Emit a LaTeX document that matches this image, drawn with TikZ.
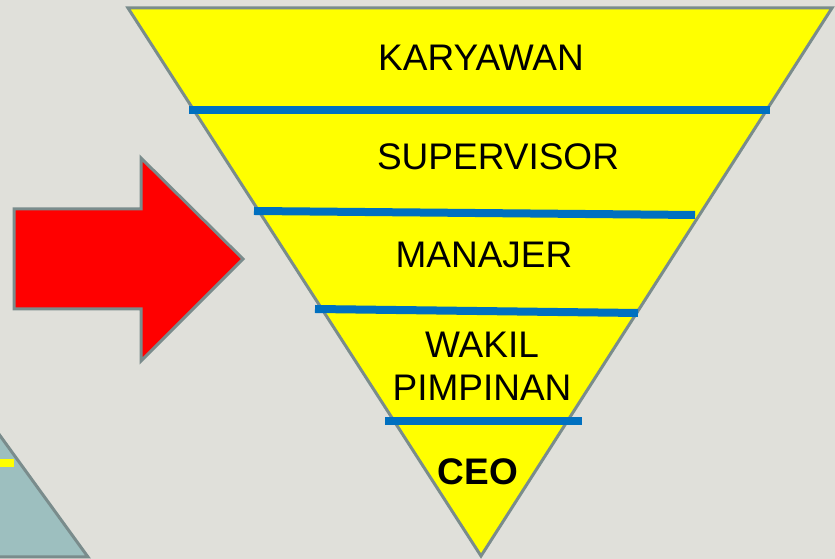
\documentclass[tikz,border=0pt]{standalone}
\usepackage{fontspec}
\setmainfont{Liberation Sans}
\definecolor{bgc}{HTML}{E0E0DA}
\definecolor{edgec}{HTML}{7A8C8C}
\definecolor{tealc}{HTML}{9DBFBF}
\definecolor{bluec}{HTML}{0070C0}
\definecolor{yelc}{HTML}{FFFF00}
\definecolor{redc}{HTML}{FF0000}
\tikzset{
  shapeline/.style={draw=edgec, line width=3pt, line join=miter},
  divider/.style={draw=bluec, line width=8pt},
  lvl/.style={font=\fontsize{37}{43}\selectfont, text=black, inner sep=0pt, align=center}
}
\begin{document}
\begin{tikzpicture}[x=1pt,y=1pt]
\fill[bgc] (0,0) rectangle (835,559);
\useasboundingbox (0,0) rectangle (835,559);
% bottom-left teal triangle
\path[shapeline, fill=tealc] (-20,151) -- (88,2) -- (-20,2) -- cycle;
\fill[yelc] (0,92) rectangle (14,100);
% red arrow
\path[shapeline, fill=redc] (14,350) -- (141,350) -- (141,401) -- (243,300) -- (141,198) -- (141,250) -- (14,250) -- cycle;
% inverted pyramid
\path[shapeline, fill=yelc] (128,551) -- (832,551) -- (481,3) -- cycle;
\coordinate (d1a) at (189,449); \coordinate (d1b) at (770,449);
\coordinate (d2a) at (254,348); \coordinate (d2b) at (695,344);
\coordinate (d3a) at (315,250); \coordinate (d3b) at (638,246);
\coordinate (d4a) at (385,138); \coordinate (d4b) at (582,138);
\draw[divider] (d1a) -- (d1b);
\draw[divider] (d2a) -- (d2b);
\draw[divider] (d3a) -- (d3b);
\draw[divider] (d4a) -- (d4b);
\node[lvl] (k) at (481,501) {KARYAWAN};
\node[lvl] (s) at (498,402) {SUPERVISOR};
\node[lvl] (m) at (484,304) {MANAJER};
\node[lvl] (w) at (482,193) {WAKIL\\PIMPINAN};
\node[lvl, font=\fontsize{37}{43}\selectfont\bfseries] (c) at (478,87) {CEO};
\end{tikzpicture}
\end{document}
